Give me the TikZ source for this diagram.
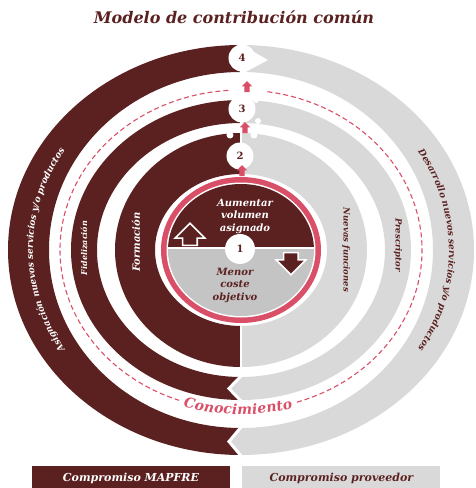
\documentclass[tikz,border=0pt]{standalone}
\usepackage{fontspec}
\setmainfont{DejaVu Serif}
\usetikzlibrary{ 
	calc,
	shapes, 
	positioning, 
	decorations,
	decorations.text
	}
\definecolor{bordeaux}{HTML}{5B2120}
\definecolor{gris}{HTML}{D9D9D9}
\definecolor{grisfonce}{HTML}{C4C4C4}
\definecolor{rose}{HTML}{D94F67}
\tikzstyle{noeud-num}=[circle,fill=white,inner sep=0pt,minimum size=27pt,text=bordeaux,font={\bfseries\fontsize{10pt}{12}\selectfont}]
\tikzstyle{fleche-rose}=[single arrow,rotate=90,fill=rose,inner xsep=0pt,inner ysep=2.5pt,minimum height=11pt,single arrow head extend=2.5pt]
\tikzstyle{fleche-centre}=[single arrow,fill=bordeaux,draw=white,line width=1.6pt,inner xsep=0pt,inner ysep=6.5pt,minimum height=22pt,single arrow head extend=7.5pt]
\tikzstyle{texte-blanc}=[text=white,font={\bfseries\itshape\fontsize{9pt}{11}\selectfont}]
\tikzstyle{texte-fonce}=[text=bordeaux,font={\bfseries\itshape\fontsize{9pt}{11}\selectfont}]
\tikzstyle{pointille}=[rose,line width=1.1pt,dash pattern=on 5pt off 3pt]
\tikzstyle{legende}=[minimum width=198pt,minimum height=24pt,inner sep=0pt,font={\bfseries\itshape\fontsize{11pt}{13}\selectfont}]
% couleur, angle de depart, rx ext, ry ext, rx int, ry int
\newcommand{\demianneau}[6]{\fill[#1] (#2:#3 and #4) arc[start angle=#2,delta angle=180,x radius=#3,y radius=#4]
	-- ({#2+180}:#5 and #6) arc[start angle={#2+180},delta angle=-180,x radius=#5,y radius=#6] -- cycle;}
% ry ext, ry int
\newcommand{\chevron}[2]{\fill[gris] (0,-#1) -- (-12,{-(#1+#2)/2}) -- (0,-#2) -- cycle;
	\draw[white,line width=3pt] (1,{-#1-2}) -- (-12,{-(#1+#2)/2}) -- (1,{-#2+2});}

\begin{document}
\begin{tikzpicture}[x=1pt,y=1pt]
        \useasboundingbox (-241,-238) rectangle (234,250);
        % anneaux
        \demianneau{bordeaux}{90}{233}{205}{192}{178}
        \demianneau{gris}{-90}{233}{205}{192}{178}
        \demianneau{bordeaux}{90}{170}{150}{144}{127}
        \demianneau{gris}{-90}{170}{150}{144}{127}
        \demianneau{bordeaux}{90}{126}{117}{86}{76}
        \demianneau{gris}{-90}{126}{117}{86}{76}
        \chevron{205}{178}
        \chevron{150}{127}
        \draw[white,line width=1.2pt] (0,-122) -- (0,-70);
        \draw[white,line width=1.2pt] (0,70) -- (0,210);
        %
        \draw[pointille] (94:181 and 160) arc[start angle=94,end angle=250,x radius=181,y radius=160];
        \draw[pointille] (288:181 and 160) arc[start angle=288,end angle=442,x radius=181,y radius=160];
        % sommet
        \fill[white] (-1,206) -- (27,190) -- (-1,175) -- cycle;
        \node[noeud-num] (n4) at (1,192) {4};
        \fill[white] (15,150) circle[radius=3] (17,129) circle[radius=3];
        \node[noeud-num] (n3) at (1,141) {3};
        \fill[white] (-11,115) circle[radius=3.5] (13,115) circle[radius=3.5];
        \node[noeud-num] (n2) at (-1,94) {2};
        \node[fleche-rose] (f3) at (6,162) {};
        \node[fleche-rose] (f2) at (4,121) {};
        \node[fleche-rose] (f1) at (1,78) {};
        % centre
        \fill[rose] (0,0) ellipse[x radius=80,y radius=73];
        \fill[white] (0,0) ellipse[x radius=74.5,y radius=67.5];
        \begin{scope}
            \clip (0,0) ellipse[x radius=73,y radius=66];
            \fill[bordeaux] (-80,2) rectangle (80,80);
            \fill[grisfonce] (-80,2) rectangle (80,-80);
        \end{scope}
        \draw[white,line width=2pt] (-74,2) -- (74,2);
        \node[fleche-centre,rotate=90] (fh) at (-51,12) {};
        \node[fleche-centre,rotate=-90] (fb) at (50,-10) {};
        \node[noeud-num,minimum size=30pt] (n1) at (-1,1) {1};
        \node[texte-blanc,align=center,font={\bfseries\itshape\fontsize{10pt}{12.5}\selectfont}] (haut) at (4,34) {Aumentar\\volumen\\asignado};
        \node[texte-fonce,align=center,font={\bfseries\itshape\fontsize{10pt}{12.5}\selectfont}] (bas) at (-6,-35) {Menor\\coste\\objetivo};
        % textes des anneaux
        \node[texte-blanc,rotate=90,font={\bfseries\itshape\fontsize{10pt}{12}\selectfont}] (formacion) at (-105,8) {Formación};
        \node[texte-blanc,rotate=90,font={\bfseries\itshape\fontsize{8pt}{10}\selectfont}] (fidelizacion) at (-157,2) {Fidelización};
        \node[texte-fonce,rotate=-90,font={\bfseries\itshape\fontsize{8.5pt}{10}\selectfont}] (funciones) at (105,0) {Nuevas funciones};
        \node[texte-fonce,rotate=-90,font={\bfseries\itshape\fontsize{8.5pt}{10}\selectfont}] (prescriptor) at (157,5) {Prescriptor};
        \path[decorate,decoration={text along path,text align=center,text color=white,
            text={|\bfseries\itshape\fontsize{9pt}{11}\selectfont|Asignación nuevos servicios y/o productos}}]
            (240:208 and 187) arc[start angle=240,end angle=120,x radius=208,y radius=187];
        \path[decorate,decoration={text along path,text align=center,text color=bordeaux,
            text={|\bfseries\itshape\fontsize{9pt}{11}\selectfont|Desarrollo nuevos servicios y/o productos}}]
            (60:208 and 187) arc[start angle=60,end angle=-60,x radius=208,y radius=187];
        \path[decorate,decoration={text along path,text align=center,raise=-4.5pt,text color=rose,
            text={|\bfseries\itshape\fontsize{14pt}{16}\selectfont|Conocimiento}}]
            (239:181 and 160) arc[start angle=239,end angle=299,x radius=181,y radius=160];
        % titre et legende
        \node[text=bordeaux,font={\bfseries\itshape\fontsize{16pt}{18}\selectfont}] (titre) at (-7,233) {Modelo de contribución común};
        \node[legende,fill=bordeaux,text=white] (leg-mapfre) at (-110,-228) {Compromiso MAPFRE};
        \node[legende,fill=gris,text=bordeaux,right=12pt of leg-mapfre] (leg-prov) {Compromiso proveedor};
\end{tikzpicture}
\end{document}
